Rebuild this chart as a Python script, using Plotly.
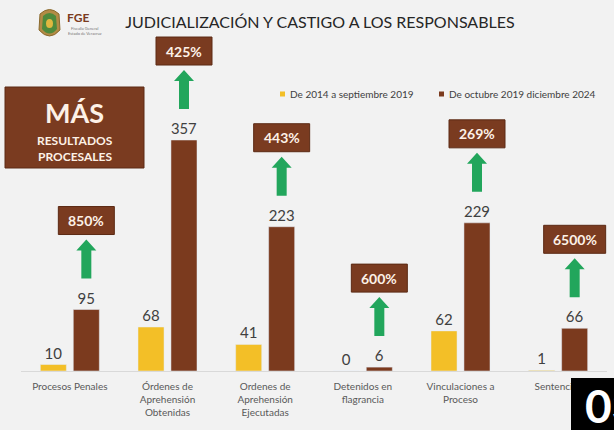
import plotly.graph_objects as go

categories = ["Procesos Penales", "Órdenes de<br>Aprehensión<br>Obtenidas",
              "Ordenes de<br>Aprehensión<br>Ejecutadas", "Detenidos en<br>flagrancia",
              "Vinculaciones a<br>Proceso", "Sentencias"]
before = [10, 68, 41, 0, 62, 1]
after = [95, 357, 223, 6, 229, 66]
pct_labels = ["850%", "425%", "443%", "600%", "269%", "6500%"]
series_names = ["De 2014 a septiembre 2019", "De octubre 2019 diciembre 2024"]

YELLOW = "#F3BF27"
BROWN = "#7B3A1E"
BOXBROWN = "#7A3B20"
GREEN = "#22A65C"
BG = "#F2F2F2"
FONT = "Lato, Open Sans, sans-serif"

W, H = 614, 430
ML, MR, MT, MB = 21, 7, 0, 59
PW = W - ML - MR
PH = H - MT - MB


def PX(x):
    return (x - ML) / PW


def PY(y):
    return (H - MB - y) / PH


fig = go.Figure()
fig.add_trace(go.Bar(x=categories, y=before, name=series_names[0], marker_color=YELLOW,
                     texttemplate="%{y}", textposition="outside", cliponaxis=False,
                     textfont=dict(size=15, color="#404040", family=FONT)))
fig.add_trace(go.Bar(x=categories, y=after, name=series_names[1], marker_color=BROWN,
                     texttemplate="%{y}", textposition="outside", cliponaxis=False,
                     textfont=dict(size=15, color="#404040", family=FONT)))

shapes = []
annotations = []


def note(x, y, text, size, color, anchor="center", family=FONT):
    annotations.append(dict(x=PX(x), y=PY(y), xref="paper", yref="paper", text=text,
                            showarrow=False, xanchor=anchor, yanchor="middle",
                            font=dict(size=size, color=color, family=family)))


# percentage boxes + green arrows above each brown bar
OFF = 16.5
for cat, v, lab in zip(categories, after, pct_labels):
    shapes.append(dict(type="path", xref="x", yref="y", xsizemode="pixel", ysizemode="pixel",
                       xanchor=cat, yanchor=v,
                       path=f"M {OFF-5},31 L {OFF+5},31 L {OFF+5},59 L {OFF+10},59 L {OFF},70 "
                            f"L {OFF-10},59 L {OFF-5},59 Z",
                       fillcolor=GREEN, line=dict(width=0), layer="above"))
    hw = 28 if len(lab) < 5 else 31
    shapes.append(dict(type="rect", xref="x", yref="y", xsizemode="pixel", ysizemode="pixel",
                       xanchor=cat, yanchor=v, x0=OFF - hw, x1=OFF + hw, y0=75, y1=103,
                       fillcolor=BOXBROWN, line=dict(color="#5C2A14", width=1), layer="above"))
    annotations.append(dict(x=cat, y=v, xref="x", yref="y", xshift=OFF, yshift=89,
                            text=f"<b>{lab}</b>", showarrow=False, xanchor="center", yanchor="middle",
                            font=dict(size=14, color="#FDF1E7", family=FONT)))

# "MÁS RESULTADOS PROCESALES" box
shapes.append(dict(type="rect", xref="paper", yref="paper", x0=PX(5), x1=PX(144), y0=PY(168), y1=PY(87),
                   fillcolor=BOXBROWN, line=dict(color="#5C2A14", width=1), layer="above"))
note(74.5, 112, "<b>MÁS</b>", 27, "#FDF1E7")
note(74.5, 140, "<b>RESULTADOS</b>", 12, "#FDF1E7")
note(74.5, 156, "<b>PROCESALES</b>", 12, "#FDF1E7")

# legend
for sx, tx, col, name in [(280, 288, YELLOW, series_names[0]), (439, 447, BROWN, series_names[1])]:
    shapes.append(dict(type="rect", xref="paper", yref="paper", x0=PX(sx), x1=PX(sx + 5),
                       y0=PY(96.5), y1=PY(91.5), fillcolor=col, line=dict(width=0), layer="above"))
    note(tx, 94, name, 10, "#404040", anchor="left")


# logo
def ppath(pts):
    s = ""
    for cmd, *xy in pts:
        s += cmd
        for i in range(0, len(xy), 2):
            s += f" {PX(xy[i]):.5f},{PY(xy[i+1]):.5f} "
    return s + "Z"


shapes.append(dict(type="path", xref="paper", yref="paper", layer="above",
                   path=ppath([("M", 40, 14), ("Q", 49.5, 5, 59, 14), ("L", 60, 30),
                               ("Q", 49.5, 42, 39, 30)]),
                   fillcolor="#B38B45", line=dict(color="#8A6A2E", width=1)))
shapes.append(dict(type="path", xref="paper", yref="paper", layer="above",
                   path=ppath([("M", 43, 16), ("Q", 49.5, 10, 56, 16), ("L", 57, 29),
                               ("Q", 49.5, 38, 42, 29)]),
                   fillcolor="#4F8A3C", line=dict(width=0)))
shapes.append(dict(type="circle", xref="paper", yref="paper", layer="above",
                   x0=PX(46), x1=PX(53), y0=PY(28), y1=PY(19),
                   fillcolor="#E0B840", line=dict(width=0)))
note(65, 18, "<b>FGE</b>", 12, "#7A3B20", anchor="left")
note(66, 31, "Fiscalía General<br>Estado de Veracruz", 4, "#777777", anchor="left")

# black box bottom-right
shapes.append(dict(type="rect", xref="paper", yref="paper", x0=PX(571), x1=PX(620),
                   y0=PY(435), y1=PY(378), fillcolor="#000000", line=dict(width=0), layer="above"))
note(583, 405, "<b>03</b>", 46, "#FFFFFF", anchor="left")

fig.update_layout(
    width=W, height=H,
    margin=dict(l=ML, r=MR, t=MT, b=MB),
    paper_bgcolor=BG, plot_bgcolor=BG,
    showlegend=False,
    barmode="group", bargap=0.325, bargroupgap=0.21,
    title=dict(text="JUDICIALIZACIÓN Y CASTIGO A LOS RESPONSABLES", x=320 / W, xanchor="center",
               xref="container", y=1 - 22 / H, yanchor="middle", yref="container",
               font=dict(size=16, color="#262626", family=FONT)),
    xaxis=dict(type="category", showline=True, linecolor="#D9D9D9", linewidth=1,
               showgrid=False, zeroline=False, ticks="", ticklabelstandoff=6,
               tickfont=dict(size=10, color="#595959", family=FONT)),
    yaxis=dict(visible=False, range=[0, PH / 0.647], showgrid=False, zeroline=False),
    shapes=shapes, annotations=annotations,
)

fig.write_html("out.html", config={"displayModeBar": False},
               post_script="document.body.style.margin='0px';")
